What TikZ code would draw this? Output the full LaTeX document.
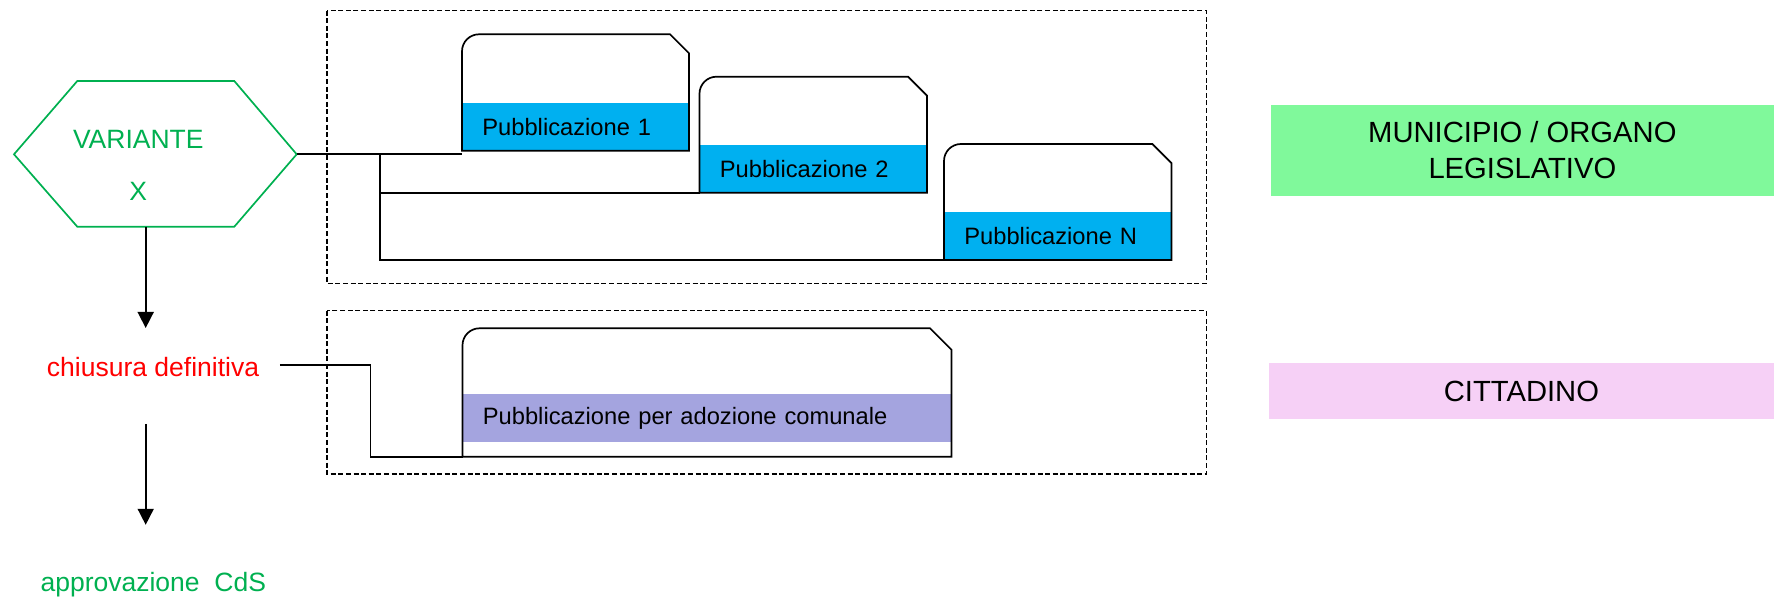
\documentclass[tikz,border=0pt]{standalone}
\usepackage{fontspec}
\setmainfont{Liberation Sans}
\usepackage{tikz}
\usetikzlibrary{arrows.meta}
\usepackage{xcolor}
\definecolor{pubblue}{HTML}{00B0F0}
\definecolor{adozviola}{RGB}{164,164,223}
\definecolor{verdeOK}{HTML}{00B050}
\definecolor{verdechiaro}{RGB}{128,249,155}
\definecolor{rosachiaro}{RGB}{246,208,246}

\begin{document}
\begin{tikzpicture}[x=0.5pt, y=-0.5pt,
  area/.style={line width=0.7pt, dash pattern=on 2.5pt off 1.3pt},
  pubbox/.style={line width=0.85pt},
  band/.style={anchor=south west, inner xsep=10pt, inner ysep=0pt, align=left, font=\fontsize{11.85}{14}\selectfont},
  link/.style={line width=0.85pt},
  arr/.style={line width=0.8pt, -{Triangle[width=8pt,length=8pt]}},
  tappa/.style={inner sep=0pt, anchor=base, font=\fontsize{13.25}{16}\selectfont},
  ruolo/.style={inner sep=0pt, align=center, font=\fontsize{14.6}{17.8}\selectfont}]
\useasboundingbox (0,0) rectangle (1774,599);

\draw [area] (326.8,10.7) rectangle (1206.2,283.3);
\draw [area] (326.8,310.7) rectangle (1206.2,474);

\draw [verdeOK, line width=0.85pt] (14,154.3) -- (77.3,81) -- (234.3,81) -- (296.7,154.3) -- (234.3,226.7) -- (77.3,226.7) -- cycle;
\coordinate (hexR) at (296.7,154.3);
\coordinate (hexB) at (145.7,226.7);
\node [verdeOK, inner sep=0pt, align=center, font=\fontsize{13.25}{26.35}\selectfont] (variante) at (138.3,165.3) {VARIANTE\\X};

\node [band, fill=pubblue, text width=93.6pt, minimum height=23.7pt] (pub1) at (462,150.7) {Pubblicazione 1};
\node [band, fill=pubblue, text width=93.6pt, minimum height=23.7pt] (pub2) at (699.5,192.7) {Pubblicazione 2};
\node [band, fill=pubblue, text width=93.6pt, minimum height=23.7pt] (pubN) at (944,260) {Pubblicazione N};
\node [band, fill=adozviola, text width=224.5pt, minimum height=24.35pt] (adoz) at (462.5,442.7) {Pubblicazione per adozione comunale};

\draw [pubbox] (462,150.7) -- (462,51.3) .. controls (462,41.9) and (469.6,34.3) .. (479,34.3) -- (670,34.3) -- (689,53.3) -- (689,150.7) -- cycle;
\draw [pubbox] (699.5,192.7) -- (699.5,93.7) .. controls (699.5,84.3) and (707.1,76.7) .. (716.5,76.7) -- (908,76.7) -- (927,95.7) -- (927,192.7) -- cycle;
\draw [pubbox] (944,260) -- (944,161) .. controls (944,151.6) and (951.6,144) .. (961,144) -- (1152.4,144) -- (1171.4,163) -- (1171.4,260) -- cycle;
\draw [pubbox] (462.5,456.7) -- (462.5,345.3) .. controls (462.5,335.9) and (470.1,328.3) .. (479.5,328.3) -- (930,328.3) -- (951.5,349.8) -- (951.5,456.7) -- cycle;
\coordinate (adozSW) at (462.5,456.7);

\node [ruolo, fill=verdechiaro, minimum width=251.65pt, minimum height=45.35pt] (municipio) at (1522.35,150.35) {MUNICIPIO / ORGANO\\LEGISLATIVO};
\node [ruolo, fill=rosachiaro, minimum width=252.6pt, minimum height=27.7pt] (cittadino) at (1521.4,391) {CITTADINO};

\node [tappa, red] (chiusura) at (153,376.8) {chiusura definitiva};
\node [tappa, verdeOK] (approvazione) at (153.3,591.7) {approvazione\ \ CdS};

\draw [link] (hexR) -- (hexR -| pub1.south west);
\coordinate (fork) at (380,154.3);
\draw [link] (fork) |- (pub2.south west);
\draw [link] (fork) |- (pubN.south west);
\draw [link] ([xshift=10.2pt, yshift=1pt]chiusura.east) -- ++(45.3pt,0) |- (adozSW);

\draw [arr, shorten >=14.6pt] (hexB) -- (hexB |- chiusura.north);
\draw [arr, shorten <=23.25pt, shorten >=23.65pt] (hexB |- chiusura.south) -- (hexB |- approvazione.north);
\end{tikzpicture}
\end{document}
